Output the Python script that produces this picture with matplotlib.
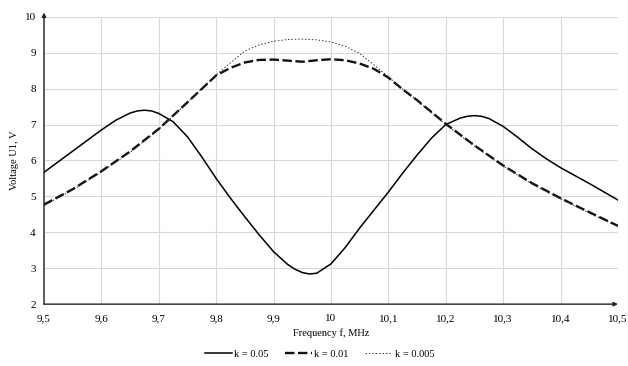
import matplotlib.pyplot as plt
import numpy as np

plt.rcParams['font.family'] = ['Liberation Serif', 'DejaVu Serif']
plt.rcParams['font.size'] = 7.5

# k = 0.05
f1 = [9.5, 9.55, 9.6, 9.625, 9.65, 9.6625, 9.675, 9.6875, 9.7, 9.725, 9.75, 9.775,
      9.8, 9.825, 9.85, 9.875, 9.9, 9.925, 9.9375, 9.95, 9.9625, 9.975, 10.0, 10.025,
      10.05, 10.075, 10.1, 10.125, 10.15, 10.175, 10.2, 10.225, 10.2375, 10.25,
      10.2625, 10.275, 10.3, 10.325, 10.35, 10.375, 10.4, 10.45, 10.5]
u1 = [5.67, 6.26, 6.85, 7.12, 7.32, 7.38, 7.40, 7.38, 7.31, 7.08, 6.66, 6.10,
      5.50, 4.95, 4.43, 3.93, 3.46, 3.10, 2.97, 2.88, 2.84, 2.86, 3.12, 3.58,
      4.12, 4.62, 5.12, 5.65, 6.15, 6.62, 7.00, 7.18, 7.23, 7.25,
      7.23, 7.17, 6.95, 6.65, 6.33, 6.05, 5.80, 5.36, 4.90]

# k = 0.01 and k = 0.005
f2 = [9.5, 9.55, 9.6, 9.65, 9.7, 9.75, 9.8, 9.825, 9.85, 9.875, 9.9, 9.925, 9.95,
      9.975, 10.0, 10.025, 10.05, 10.075, 10.1, 10.125, 10.15, 10.2, 10.25, 10.3,
      10.35, 10.4, 10.45, 10.5]
u2 = [4.77, 5.20, 5.70, 6.25, 6.88, 7.62, 8.37, 8.58, 8.73, 8.80, 8.81, 8.78, 8.75,
      8.79, 8.82, 8.79, 8.70, 8.55, 8.31, 7.98, 7.68, 7.02, 6.42, 5.86,
      5.37, 4.95, 4.56, 4.18]
u3 = [4.75, 5.18, 5.68, 6.23, 6.86, 7.62, 8.38, 8.72, 9.05, 9.22, 9.32, 9.37, 9.38,
      9.36, 9.30, 9.18, 8.98, 8.66, 8.33, 7.99, 7.67, 7.00, 6.40, 5.84,
      5.35, 4.93, 4.54, 4.16]

xticks = [9.5, 9.6, 9.7, 9.8, 9.9, 10.0, 10.1, 10.2, 10.3, 10.4, 10.5]
xlabels = ['9,5', '9,6', '9,7', '9,8', '9,9', '10', '10,1', '10,2', '10,3', '10,4', '10,5']

fig = plt.figure(figsize=(6.28, 3.66), dpi=100)
ax = fig.add_axes([0.070, 0.169, 0.914, 0.785])

ax.plot(f1, u1, color='black', lw=1.1, label='k = 0.05')
ax.plot(f2, u2, color='#111111', lw=1.7, dashes=(4, 1.5), label='k = 0.01')
ax.plot(f2, u3, color='#333333', lw=0.7, dashes=(1.5, 2), label='k = 0.005')

ax.set_xlim(9.5, 10.5)
ax.set_ylim(2, 10)
ax.set_xticks(xticks)
ax.set_xticklabels(xlabels)
ax.set_yticks(range(2, 11))
ax.tick_params(length=0, labelsize=8)
ax.tick_params(axis='x', pad=7)
ax.tick_params(axis='y', pad=6)
ax.grid(color='#d9d9d9', lw=0.8)
ax.set_axisbelow(True)
for s in ax.spines.values():
    s.set_visible(False)

# axis lines with arrows
ax.annotate('', xy=(1.0, 0), xytext=(0, 0), xycoords='axes fraction',
            arrowprops=dict(arrowstyle='-|>', lw=1.0, color='#222222', mutation_scale=6,
                            shrinkA=0, shrinkB=0))
ax.annotate('', xy=(0, 1.015), xytext=(0, 0), xycoords='axes fraction',
            arrowprops=dict(arrowstyle='-|>', lw=1.0, color='#222222', mutation_scale=6,
                            shrinkA=0, shrinkB=0), annotation_clip=False)

ax.set_xlabel('Frequency f, MHz', labelpad=4)
ax.set_ylabel('Voltage U1, V', labelpad=4)

ax.legend(loc='upper center', bbox_to_anchor=(0.48, -0.125), ncol=3, frameon=False,
          handlelength=2.6, handletextpad=0.2, columnspacing=1.6, fontsize=7.5)

fig.savefig('out.png', dpi=100)
